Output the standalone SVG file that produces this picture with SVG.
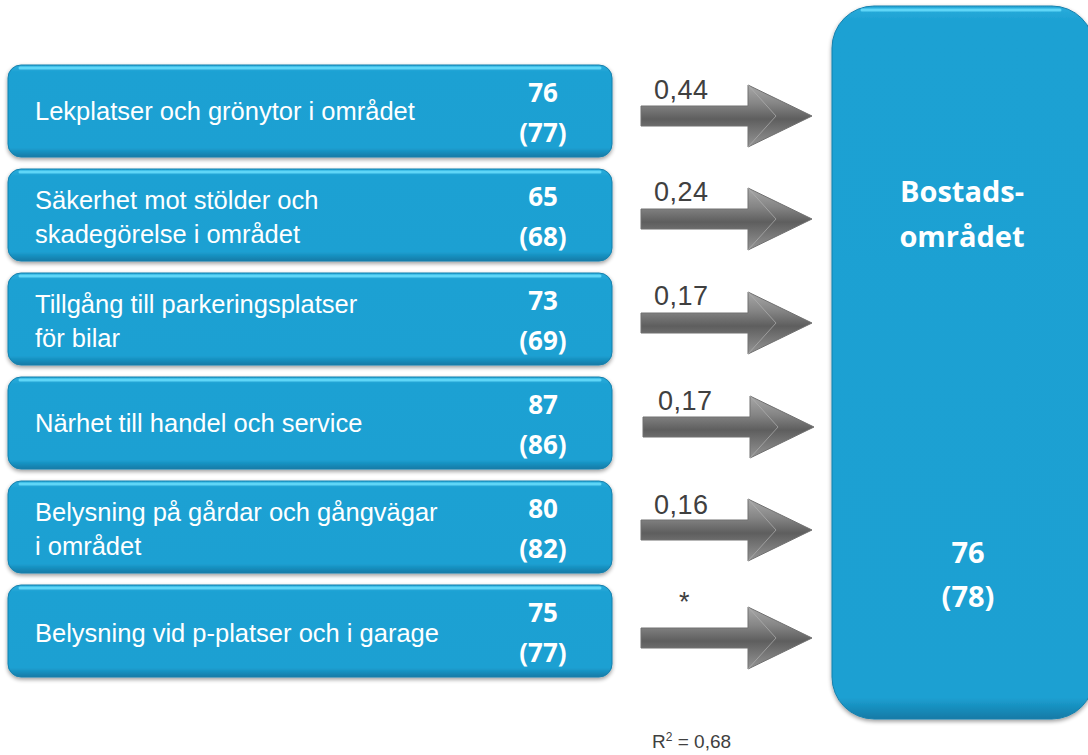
<svg xmlns="http://www.w3.org/2000/svg" width="1088" height="755" viewBox="0 0 1088 755">
<style>
.lbl{font-family:"Liberation Sans",Arial,sans-serif;font-size:25.5px;fill:#ffffff}
.num{font-family:"Open Sans","Liberation Sans",sans-serif;font-size:26px;font-weight:bold;fill:#ffffff;text-anchor:middle}
.big{font-family:"Open Sans","Liberation Sans",sans-serif;font-size:29px;font-weight:bold;fill:#ffffff;text-anchor:middle}
.coef{font-family:"Liberation Sans",Arial,sans-serif;font-size:27px;fill:#404040;letter-spacing:0.5px}
.box{fill:url(#bg);stroke:#1680ad;stroke-width:1;filter:url(#sh)}
.hl{fill:none;stroke:#5fd6f7;stroke-width:3;stroke-linecap:round}
</style>
<defs>
<linearGradient id="bg" x1="0" y1="0" x2="0" y2="1">
<stop offset="0" stop-color="#2aaddc"/>
<stop offset="0.08" stop-color="#1da1d3"/>
<stop offset="0.9" stop-color="#1ca0d2"/>
<stop offset="1" stop-color="#127aa6"/>
</linearGradient>
<linearGradient id="bgBig" x1="0" y1="0" x2="0" y2="1">
<stop offset="0" stop-color="#2aaddc"/>
<stop offset="0.02" stop-color="#1da1d3"/>
<stop offset="0.97" stop-color="#1ca0d2"/>
<stop offset="1" stop-color="#127aa6"/>
</linearGradient>
<linearGradient id="ag" x1="0" y1="0" x2="0" y2="1">
<stop offset="0" stop-color="#a8a8a8"/>
<stop offset="0.3" stop-color="#858585"/>
<stop offset="0.55" stop-color="#5e5e5e"/>
<stop offset="1" stop-color="#959595"/>
</linearGradient>
<filter id="sh" x="-5%" y="-10%" width="110%" height="130%">
<feGaussianBlur in="SourceAlpha" stdDeviation="2"/>
<feOffset dy="2"/>
<feComponentTransfer><feFuncA type="linear" slope="0.4"/></feComponentTransfer>
<feMerge><feMergeNode/><feMergeNode in="SourceGraphic"/></feMerge>
</filter>
<g id="arr">
<polygon points="0,-10 107,-10 107,-31 171,0 107,31 107,10 0,10" fill="url(#ag)" stroke="#707070" stroke-width="1"/>
<polyline points="107,-31 135,0 107,31" fill="none" stroke="#b0b0b0" stroke-width="1" opacity="0.7"/>
</g>
</defs>
<rect width="1088" height="755" fill="#ffffff"/>

<g id="n1">
<rect class="box" x="8" y="65" width="604" height="92" rx="13"/>
<path class="hl" d="M20,68 H600"/>
<text class="lbl" x="35" y="120">Lekplatser och grönytor i området</text>
<text class="num" x="543" y="102">76</text>
<text class="num" x="543" y="142">(77)</text>
</g>
<g id="n2">
<rect class="box" x="8" y="169" width="604" height="92" rx="13"/>
<path class="hl" d="M20,172 H600"/>
<text class="lbl" x="35" y="209">Säkerhet mot stölder och</text>
<text class="lbl" x="35" y="243">skadegörelse i området</text>
<text class="num" x="543" y="206">65</text>
<text class="num" x="543" y="246">(68)</text>
</g>
<g id="n3">
<rect class="box" x="8" y="273" width="604" height="92" rx="13"/>
<path class="hl" d="M20,276 H600"/>
<text class="lbl" x="35" y="313">Tillgång till parkeringsplatser</text>
<text class="lbl" x="35" y="347">för bilar</text>
<text class="num" x="543" y="310">73</text>
<text class="num" x="543" y="350">(69)</text>
</g>
<g id="n4">
<rect class="box" x="8" y="377" width="604" height="92" rx="13"/>
<path class="hl" d="M20,380 H600"/>
<text class="lbl" x="35" y="432">Närhet till handel och service</text>
<text class="num" x="543" y="414">87</text>
<text class="num" x="543" y="454">(86)</text>
</g>
<g id="n5">
<rect class="box" x="8" y="481" width="604" height="92" rx="13"/>
<path class="hl" d="M20,484 H600"/>
<text class="lbl" x="35" y="521">Belysning på gårdar och gångvägar</text>
<text class="lbl" x="35" y="555">i området</text>
<text class="num" x="543" y="518">80</text>
<text class="num" x="543" y="558">(82)</text>
</g>
<g id="n6">
<rect class="box" x="8" y="585" width="604" height="92" rx="13"/>
<path class="hl" d="M20,588 H600"/>
<text class="lbl" x="35" y="642">Belysning vid p-platser och i garage</text>
<text class="num" x="543" y="622">75</text>
<text class="num" x="543" y="662">(77)</text>
</g>

<g id="target">
<rect x="832" y="6" width="262" height="713" rx="42" fill="url(#bgBig)" stroke="#1680ad" stroke-width="1" filter="url(#sh)"/>
<path class="hl" d="M862,10 H1060"/>
<text class="big" x="962" y="202">Bostads-</text>
<text class="big" x="962" y="247">området</text>
<text class="big" x="968" y="563">76</text>
<text class="big" x="968" y="607">(78)</text>
</g>

<g id="connectors">
<use href="#arr" x="641" y="116"/>
<use href="#arr" x="641" y="219"/>
<use href="#arr" x="641" y="323"/>
<use href="#arr" x="643" y="427"/>
<use href="#arr" x="641" y="530"/>
<use href="#arr" x="641" y="638"/>
<text class="coef" x="654" y="99">0,44</text>
<text class="coef" x="654" y="201">0,24</text>
<text class="coef" x="654" y="305">0,17</text>
<text class="coef" x="658" y="410">0,17</text>
<text class="coef" x="654" y="514">0,16</text>
<text class="coef" x="679" y="611">*</text>
</g>

<text x="652" y="748" font-family="Liberation Sans,Arial,sans-serif" font-size="19" fill="#404040">R<tspan font-size="12" dy="-7">2</tspan><tspan dy="7"> = 0,68</tspan></text>
</svg>
